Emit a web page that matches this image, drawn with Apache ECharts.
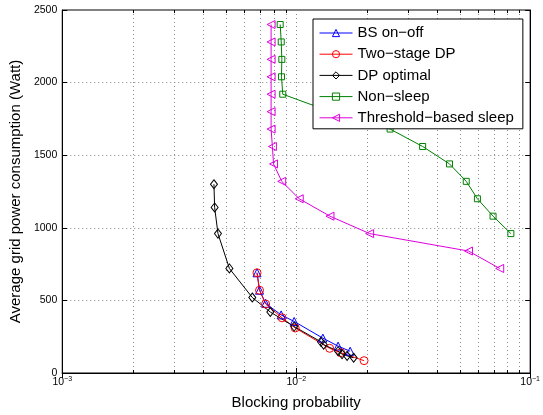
<!DOCTYPE html>
<html>
<head>
<meta charset="utf-8">
<script src="https://cdn.jsdelivr.net/npm/echarts@6/dist/echarts.min.js"></script>
<style>
  html, body { margin: 0; padding: 0; background: #fff; }
  #chart { width: 543px; height: 415px; }
</style>
</head>
<body>
<div id="chart"></div>
<script>
// Blocking probability vs. average grid power consumption, [x, y] pairs
const bsOnOff = [
  [0.0068, 690], [0.00697, 570], [0.0074, 480], [0.00862, 400],
  [0.0098, 355], [0.0130, 240], [0.0151, 185], [0.0170, 150]
];
const twoStageDP = [
  [0.0068, 690], [0.00697, 570], [0.0074, 475], [0.0087, 380],
  [0.0099, 310], [0.0139, 170], [0.0155, 140], [0.0195, 85]
];
const dpOptimal = [
  [0.00445, 1300], [0.00448, 1140], [0.00463, 960], [0.00518, 720],
  [0.00649, 520], [0.00775, 420], [0.0098, 320], [0.01275, 215],
  [0.0131, 195], [0.0151, 150], [0.0157, 130], [0.0165, 118], [0.0176, 105]
];
const nonSleep = [
  [0.00854, 2400], [0.00863, 2280], [0.00868, 2160], [0.00865, 2040],
  [0.00876, 1920], [0.0140, 1800], [0.0252, 1680], [0.0347, 1560],
  [0.0452, 1440], [0.0533, 1320], [0.0595, 1200], [0.0694, 1080], [0.0827, 960]
];
const thresholdSleep = [
  [0.00781, 2400], [0.00781, 2280], [0.00781, 2160], [0.00781, 2040],
  [0.00781, 1920], [0.00781, 1800], [0.00781, 1680], [0.00791, 1560],
  [0.00800, 1440], [0.00867, 1320], [0.0103, 1200], [0.01394, 1080],
  [0.0206, 960], [0.0545, 840], [0.0741, 720]
];
const seriesNames = ['BS on−off', 'Two−stage DP', 'DP optimal', 'Non−sleep', 'Threshold−based sleep'];

// Minor decade positions on the logarithmic x axis
const minorTicks = [];
[0.001, 0.01].forEach(function (d) {
  for (let k = 2; k <= 9; k++) minorTicks.push([+(k * d).toPrecision(3), 0]);
});

const FONT = "'Liberation Sans', Arial, sans-serif";
const GRID_COLOR = '#8a8a8a';
const COLORS = ['#0000ff', '#ff0000', '#000000', '#008000', '#dd00dd'];

function hollow(color) {
  return { color: 'rgba(0,0,0,0)', borderColor: color, borderWidth: 1 };
}
function lineSeries(idx, data, symbol, size, rotate) {
  const color = COLORS[idx];
  return {
    name: seriesNames[idx], type: 'line', data: data,
    symbol: symbol, symbolSize: size, symbolRotate: rotate || 0,
    showAllSymbol: true,
    lineStyle: { color: color, width: 1 },
    itemStyle: hollow(color),
    emphasis: { disabled: true },
    z: 3
  };
}

const chart = echarts.init(document.getElementById('chart'), null, { renderer: 'canvas' });
chart.setOption({
  backgroundColor: '#fff',
  animation: false,
  textStyle: { fontFamily: FONT, color: '#000' },
  grid: {
    left: 60, right: 7, top: 10, bottom: 42,
    show: true, borderColor: '#000', borderWidth: 1, backgroundColor: 'transparent'
  },
  legend: {
    left: 313, top: 19, orient: 'vertical', align: 'left',
    backgroundColor: '#fff', borderColor: '#000', borderWidth: 1,
    padding: [6, 9, 3, 6],
    itemWidth: 33, itemHeight: 9, itemGap: 5.2,
    textStyle: { fontFamily: FONT, fontSize: 15, color: '#000', lineHeight: 16 },
    data: seriesNames.map(function (n, i) {
      return {
        name: n,
        itemStyle: hollow(COLORS[i]),
        lineStyle: { color: COLORS[i], width: 1 }
      };
    }),
    selectedMode: false,
    z: 10
  },
  xAxis: [{
    type: 'log', logBase: 10, min: 0.001, max: 0.1,
    name: 'Blocking probability', nameLocation: 'middle', nameGap: 22,
    nameTextStyle: { fontFamily: FONT, fontSize: 15, color: '#000' },
    axisLine: { show: true, lineStyle: { color: '#000', width: 1 } },
    axisTick: { show: true, inside: true, length: 5, lineStyle: { color: '#000' } },
    axisLabel: {
      margin: 3, color: '#000',
      formatter: function (v) {
        const e = Math.round(Math.log10(v));
        return '{b|10}{s|' + (e < 0 ? '−' + (-e) : e) + '}';
      },
      rich: {
        b: { fontFamily: FONT, fontSize: 10.5, verticalAlign: 'bottom' },
        s: { fontFamily: FONT, fontSize: 7, verticalAlign: 'bottom', padding: [0, 0, 5, 0] }
      }
    },
    splitLine: { show: true, lineStyle: { color: GRID_COLOR, type: [1, 3], width: 1 } }
  }, {
    type: 'log', logBase: 10, min: 0.001, max: 0.1, position: 'top',
    axisLine: { show: true, lineStyle: { color: '#000' } },
    axisTick: { show: true, inside: true, length: 5, lineStyle: { color: '#000' } },
    axisLabel: { show: false }, splitLine: { show: false }
  }],
  yAxis: [{
    type: 'value', min: 0, max: 2500, interval: 500,
    name: 'Average grid power consumption (Watt)', nameLocation: 'middle', nameGap: 21,
    nameTextStyle: { fontFamily: FONT, fontSize: 15, color: '#000' },
    axisLine: { show: true, lineStyle: { color: '#000', width: 1 } },
    axisTick: { show: true, inside: true, length: 5, lineStyle: { color: '#000' } },
    axisLabel: {
      margin: 5, color: '#000', fontFamily: FONT, fontSize: 10.5,
      formatter: function (v) { return String(v); }
    },
    splitLine: { show: true, lineStyle: { color: GRID_COLOR, type: [1, 3], width: 1 } }
  }, {
    type: 'value', min: 0, max: 2500, interval: 500, position: 'right',
    axisLine: { show: true, lineStyle: { color: '#000' } },
    axisTick: { show: true, inside: true, length: 5, lineStyle: { color: '#000' } },
    axisLabel: { show: false }, splitLine: { show: false }
  }],
  series: [
    {
      // dotted minor grid and minor ticks on the log axis
      type: 'custom', name: 'minor', data: minorTicks, silent: true, z: 1,
      xAxisIndex: 0, yAxisIndex: 0,
      renderItem: function (params, api) {
        const cs = params.coordSys;
        const x = Math.round(api.coord([api.value(0), 0])[0]) + 0.5;
        const top = cs.y, bottom = cs.y + cs.height;
        return {
          type: 'group',
          children: [
            { type: 'line', shape: { x1: x, y1: top, x2: x, y2: bottom },
              style: { stroke: GRID_COLOR, lineWidth: 1, lineDash: [1, 3] } },
            { type: 'line', shape: { x1: x, y1: bottom, x2: x, y2: bottom - 3 },
              style: { stroke: '#000', lineWidth: 1 } },
            { type: 'line', shape: { x1: x, y1: top, x2: x, y2: top + 3 },
              style: { stroke: '#000', lineWidth: 1 } }
          ]
        };
      }
    },
    lineSeries(0, bsOnOff, 'triangle', 8),
    lineSeries(1, twoStageDP, 'circle', 8),
    lineSeries(2, dpOptimal, 'diamond', [7, 9]),
    lineSeries(3, nonSleep, 'rect', 6),
    lineSeries(4, thresholdSleep, 'triangle', 8, 90)
  ]
});
</script>
</body>
</html>
